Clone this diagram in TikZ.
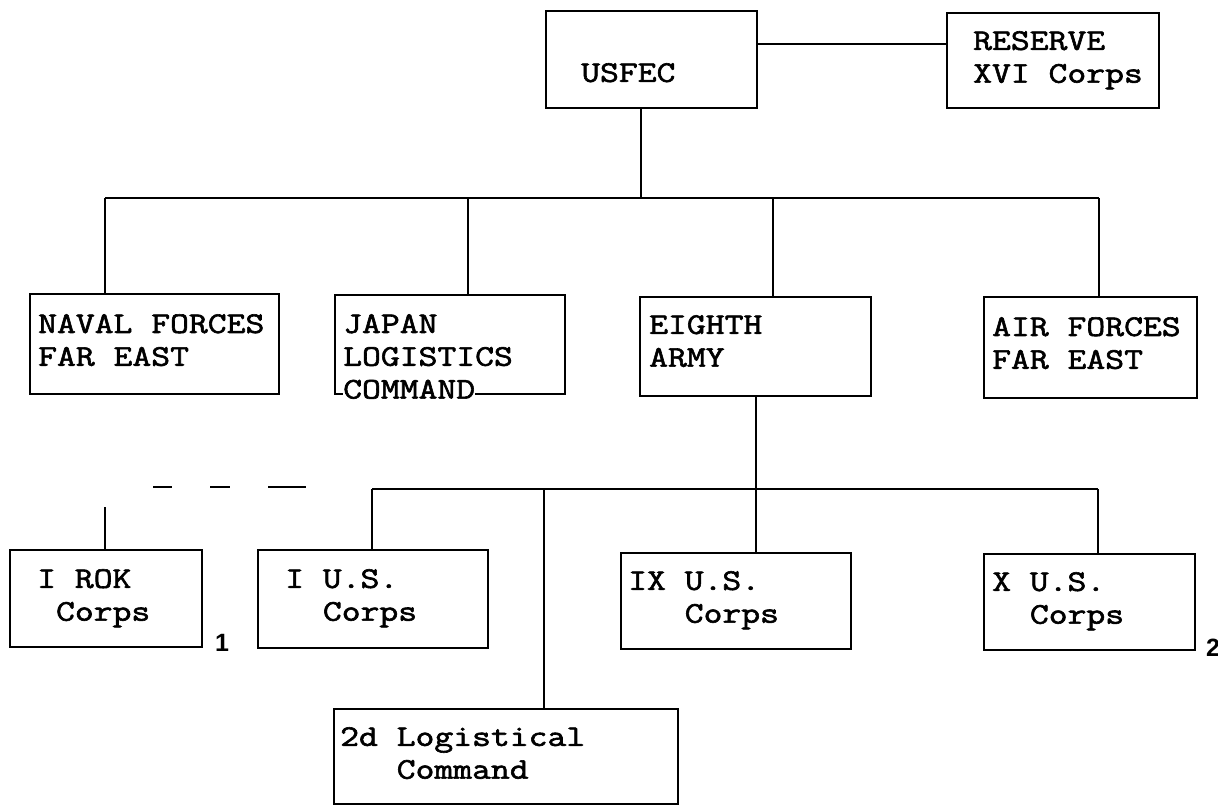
\documentclass[tikz,border=0pt]{standalone}
\usepackage{fontspec}
\newfontfamily\orgfont[FakeStretch=1.22,FakeBold=2]{Latin Modern Mono}
\newfontfamily\notefont{Liberation Sans}
\usetikzlibrary{positioning}

\begin{document}
\begin{tikzpicture}[
    x=1pt, y=-1pt,
    % Styles
    unit/.style={rectangle, draw=black, line width=2.4pt, inner sep=0pt, anchor=north west},
    unitname/.style={inner sep=0pt, align=left, font=\orgfont\fontsize{30}{32.8}\selectfont},
    link/.style={draw=black, line width=1.8pt},
    fnote/.style={inner sep=0pt, anchor=base west, font=\notefont\bfseries\fontsize{25}{25}\selectfont}
]
\useasboundingbox (0,0) rectangle (1218,805);

% 1. HEADQUARTERS AND RESERVE
\node[unit, minimum width=211pt, minimum height=97pt] (usfec) at (545,10) {};
\node[unitname, below right=53pt and 36pt of usfec.north west] {USFEC};

\node[unit, minimum width=212pt, minimum height=95pt] (reserve) at (946,12) {};
\node[unitname, below right=19pt and 27pt of reserve.north west] {RESERVE\\XVI Corps};

% 2. MAJOR COMMANDS
\node[unit, minimum width=249pt, minimum height=100pt] (naval) at (29,293) {};
\node[unitname, below right=21pt and 9pt of naval.north west] {NAVAL FORCES\\FAR EAST};

\node[unit, minimum width=230pt, minimum height=99pt] (japan) at (334,294) {};
\node[unitname, below right=20pt and 9pt of japan.north west] {JAPAN\\LOGISTICS\\{\fboxsep=0pt\colorbox{white}{COMMAND}}};

\node[unit, minimum width=231pt, minimum height=99pt] (eighth) at (639,296) {};
\node[unitname, below right=19pt and 10pt of eighth.north west] {EIGHTH\\ARMY};

\node[unit, minimum width=213pt, minimum height=101pt] (airfe) at (983,296) {};
\node[unitname, below right=21pt and 9pt of airfe.north west] {AIR FORCES\\FAR EAST};

% 3. CORPS AND LOGISTICAL COMMAND
\node[unit, minimum width=192pt, minimum height=97pt] (irok) at (9,549) {};
\node[unitname, below right=20pt and 28pt of irok.north west] {I ROK\\\hphantom{X}Corps};

\node[unit, minimum width=230pt, minimum height=98pt] (ius) at (257,549) {};
\node[unitname, below right=20pt and 28pt of ius.north west] {I U.S.\\\hphantom{XX}Corps};

\node[unit, minimum width=230pt, minimum height=96pt] (ixus) at (620,552) {};
\node[unitname, below right=19pt and 8pt of ixus.north west] {IX U.S.\\\hphantom{XXX}Corps};

\node[unit, minimum width=211pt, minimum height=96pt] (xus) at (983,553) {};
\node[unitname, below right=19pt and 9pt of xus.north west] {X U.S.\\\hphantom{XX}Corps};

\node[unit, minimum width=344pt, minimum height=95pt] (logcmd) at (333,708) {};
\node[unitname, below right=19pt and 7pt of logcmd.north west] {2d Logistical\\\hphantom{XXX}Command};

% Footnote marks
\node[fnote] (note1) at (215,651) {1};
\node[fnote] (note2) at (1206,656) {2};

% CONNECTING LINES
\draw[link] ([yshift=16pt]usfec.east) -- ([yshift=16pt]usfec.east -| reserve.west);

\coordinate (hq) at (641,198);
\foreach \n/\x in {naval/105, japan/468, eighth/773, airfe/1099}
    \coordinate (bus-\n) at (\x,198);
\draw[link] (usfec.south -| hq) -- (hq);
\draw[link] (bus-naval) -- (bus-airfe);
\foreach \n in {naval, japan, eighth, airfe}
    \draw[link] (bus-\n) -- (bus-\n |- \n.north);

\foreach \n/\x in {ius/372, logcmd/544, xus/1098}
    \coordinate (bus-\n) at (\x,489);
\draw[link] (eighth.south) -- (eighth.south |- ixus.north);
\draw[link] (bus-ius) -- (bus-xus);
\foreach \n in {ius, logcmd, xus}
    \draw[link] (bus-\n) -- (bus-\n |- \n.north);

% I ROK: broken link
\coordinate (rokstub) at (105,507);
\coordinate (dashL) at (153,487);
\coordinate (dashR) at (306,487);
\draw[link] (rokstub) -- (rokstub |- irok.north);
\draw[link, dash pattern=on 19pt off 38pt on 20pt off 38pt on 38pt] (dashL) -- (dashR);

\end{tikzpicture}
\end{document}
